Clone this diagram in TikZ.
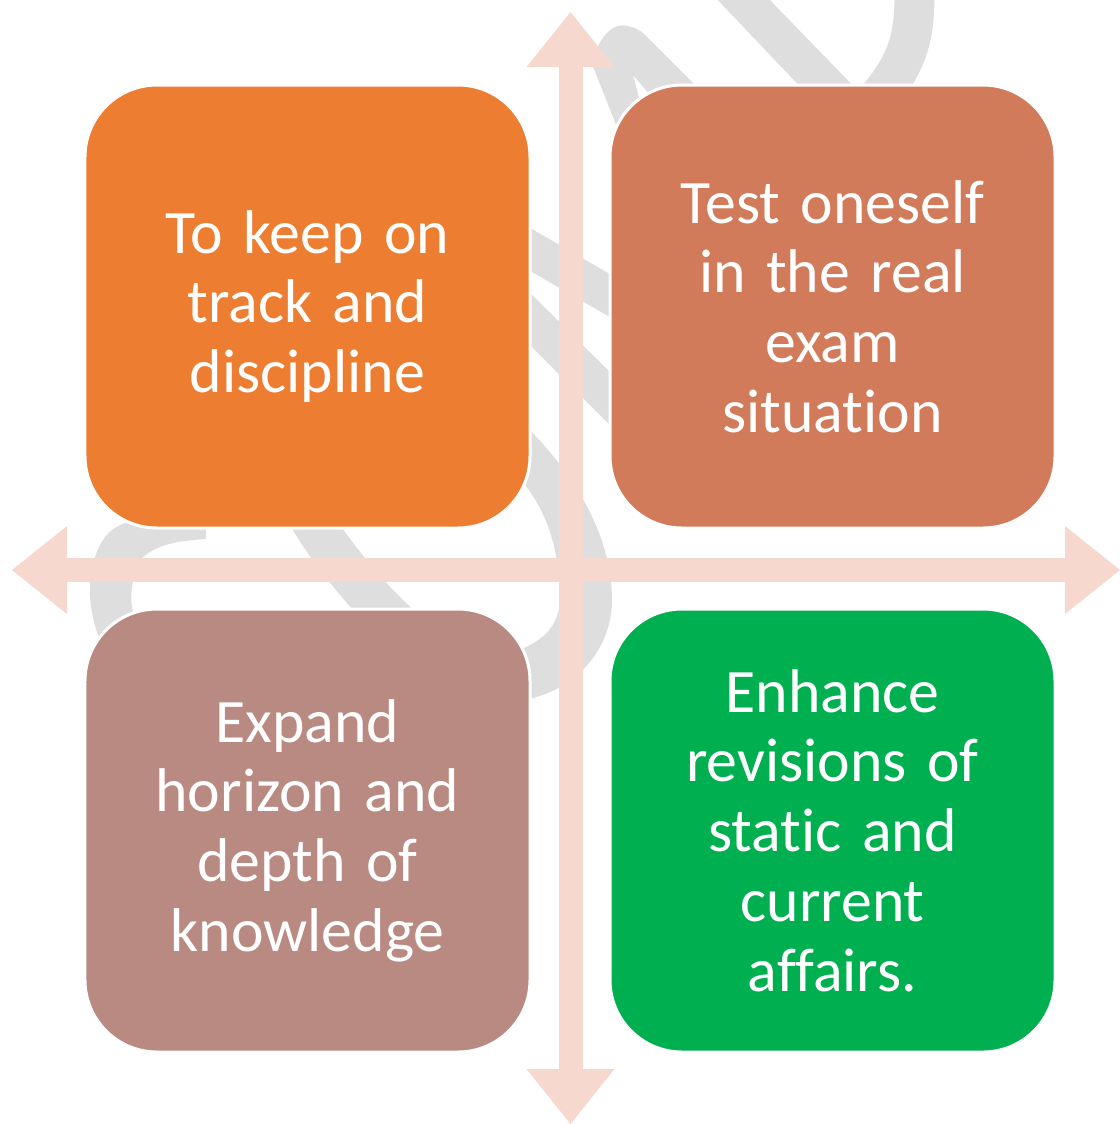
\documentclass[tikz,border=0pt]{standalone}
\usepackage{fontspec}
\setmainfont{Carlito}[Ligatures=NoCommon]
\usetikzlibrary{positioning,arrows.meta}

\definecolor{keeporange}{RGB}{237,125,49}
\definecolor{testbrown}{RGB}{209,123,91}
\definecolor{expandrose}{RGB}{185,138,130}
\definecolor{enhancegreen}{RGB}{0,176,80}
\definecolor{axispink}{RGB}{247,216,206}
\definecolor{logogrey}{RGB}{222,222,222}

\tikzset{
  card/.style={rectangle, rounded corners=72bp, draw=white, line width=3bp,
    minimum width=445bp, minimum height=443bp, inner sep=0pt,
    text width=420bp, align=center, text=white,
    font=\fontsize{62}{70}\selectfont},
  logo/.style={fill=logogrey},
  axistip/.tip={Triangle[length=55bp, width=88bp, line width=0pt]},
  axis/.style={draw=axispink, line width=24bp, axistip-axistip},
}

\begin{document}
\begin{tikzpicture}[x=1bp, y=-1bp]

% Fix the page size
\useasboundingbox (0,0) rectangle (1120,1124);
\clip (0,0) rectangle (1120,1124);

% Draw the watermark behind everything
\fill[logo] (592,64) .. controls (598,38) and (612,22) .. (628,26)
  .. controls (636,28) and (640,30) .. (645,35) -- (702,92) -- (650,95)
  -- (633,75) -- (648,130) -- (616,125) -- cycle;
\fill[logo] (713,-5) -- (765,-5) -- (862,95) -- (808,95) -- cycle;
\draw[logogrey, line width=40bp] (913,-30) .. controls (918,30) and (910,60) .. (878,98);
\fill[logo] (525,225) -- (615,277) -- (615,320) -- (525,268) -- cycle;
\fill[logo] (525,288) -- (615,377) -- (615,430) -- (525,340) -- cycle;
\fill[logo] (525,425) .. controls (580,480) and (612,540) .. (612,600)
  .. controls (612,650) and (575,690) .. (525,700) -- (515,652)
  .. controls (545,640) and (562,625) .. (560,590)
  .. controls (558,545) and (545,510) .. (525,485) -- cycle;
\fill[logo] (290,525) -- (340,525) .. controls (365,560) and (390,590) .. (425,620)
  -- (362,620) .. controls (335,590) and (310,560) .. (290,525) -- cycle;
\fill[logo] (206,525) -- (206,539) .. controls (175,541) and (155,545) .. (140,560)
  .. controls (128,585) and (130,610) .. (137,625) -- (100,640)
  .. controls (88,610) and (85,575) .. (100,545)
  .. controls (110,525) and (130,518) .. (160,518) -- cycle;

% Draw the two axes
\coordinate (top) at (570.5,12);
\coordinate (bottom) at (570.5,1124);
\coordinate (left) at (12,570);
\coordinate (right) at (1120,570);
\draw[axis] (top) -- (bottom);
\draw[axis] (left) -- (right);

% Draw the four boxes
\node[card, fill=keeporange] (track) at (307.5,306.5) {To keep on\\track and\\discipline};
\node[card, fill=testbrown, right=77bp of track] (test) {Test oneself\\in the real\\exam\\situation};
\node[card, fill=expandrose, below=78bp of track] (expand) {Expand\\horizon and\\depth of\\knowledge};
\node[card, fill=enhancegreen, below=78bp of test] (enhance) {Enhance\\revisions of\\static and\\current\\affairs.};

\end{tikzpicture}
\end{document}
